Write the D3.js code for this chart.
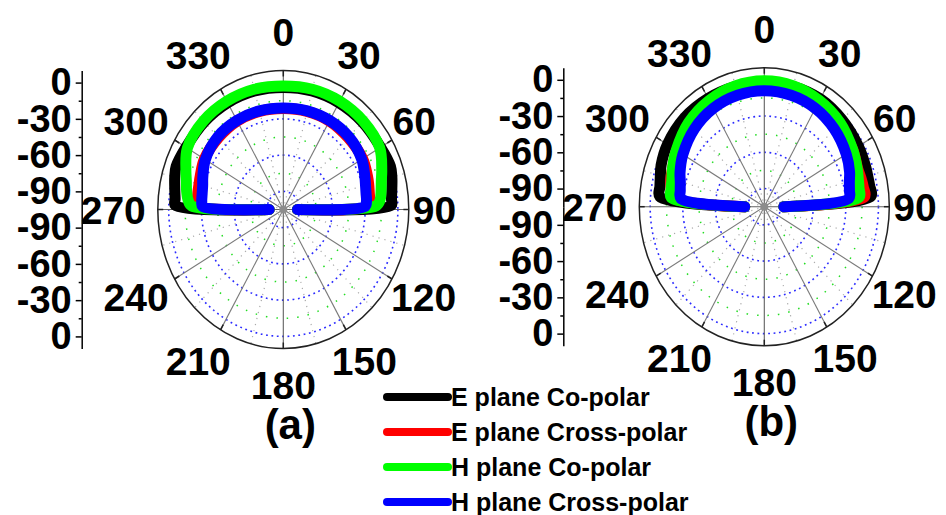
<!DOCTYPE html>
<html>
<head>
<meta charset="utf-8">
<script src="https://cdn.jsdelivr.net/npm/d3@7"></script>
<style>
  body { margin: 0; background: #fff; }
  svg { display: block; }
  text { font-family: Arial, "Liberation Sans", sans-serif; font-weight: bold; }
</style>
</head>
<body>
<div id="chart"></div>
<script>
// radial ticks (dB) and angle labels
var dbTicks = [0, -30, -60, -90];
var dbMinor = [-15, -45, -75];
var angleTicks = [0, 30, 60, 90, 120, 150, 180, 210, 240, 270, 300, 330];
var gridDotted = [15, 45, 75, 105, 135, 165, 195, 225, 255, 285, 315, 345];

var seriesNames = ["E plane Co-polar", "E plane Cross-polar", "H plane Co-polar", "H plane Cross-polar"];
var seriesColors = ["#000000", "#ff0000", "#00ff00", "#0000ff"];

// (a) pattern, angle in degrees, gain in dB
var anglesA = [-90, -88, -85, -80, -75, -70, -60, -45, -30, -15, 0, 15, 30, 45, 60, 70, 75, 80, 85, 88, 90];
var eCoA    = [-92, -6, -5.5, -4, -2, -0.5, -2, -2.5, -3, -3.5, -4, -3.5, -3, -2.5, -2, -0.5, -2, -4, -5.5, -6, -92];
var eCrossA = [-92, -27, -26, -25.5, -25, -24, -21.5, -21, -20.5, -21, -21.5, -21, -20.5, -21, -21, -23, -24, -25, -25.5, -27, -92];
var hCoA    = [-92, -21, -17.5, -15, -13, -10, -3.5, -1.5, -1.5, -2, -2.8, -2, -1.5, -1.5, -3, -9, -12, -14, -16, -20, -92];
var hCrossA = [-92, -31, -30, -29.5, -28.5, -26.5, -22.5, -20, -20, -20.5, -21, -20.5, -20, -20, -22, -25.5, -27, -28, -28.5, -30, -92];

// (b) pattern
var anglesB = [-90, -85, -80, -75, -70, -60, -45, -30, -15, 0, 15, 30, 45, 60, 70, 75, 80, 85, 90];
var eCoB    = [-87, -8.5, -7.5, -6, -4, -2, -1, -1.5, -2, -2, -2, -2, -3.5, -5, -6, -6.5, -6.5, -6.5, -87];
var eCrossB = [-87, -20, -18, -16, -15, -12, -8.5, -6.5, -5.5, -5.5, -5.5, -6, -8.5, -11, -13.5, -13, -12.5, -12.5, -87];
var hCoB    = [-87, -19, -18, -17, -15, -11.5, -6.5, -3.5, -1.5, -0.8, -1.5, -3.5, -6.5, -11, -14, -15.5, -16.5, -17.5, -87];
var hCrossB = [-87, -28, -26.5, -25, -22.5, -18.5, -14, -11, -9.5, -9, -9.5, -11, -14, -18, -21.5, -24, -25.5, -27, -87];

var width = 946, height = 515;
var svg = d3.select("#chart").append("svg")
  .attr("width", width)
  .attr("height", height);

var panels = [
  { cx: 283.3, cy: 209.5, rx: 125.5, ry: 139, axisX: 81.7, tag: "(a)",
    angles: anglesA, series: [eCoA, eCrossA, hCoA, hCrossA] },
  { cx: 764.3, cy: 206.7, rx: 125, ry: 139, axisX: 563.3, tag: "(b)",
    angles: anglesB, series: [eCoB, eCrossB, hCoB, hCrossB] }
];

function rad(a) { return a * Math.PI / 180; }

function drawPanel(p) {
  var g = svg.append("g");
  var kx = p.rx / p.ry;
  var r = d3.scaleLinear().domain([-105, 10]).range([0, p.ry]);
  var rMax = r.domain()[1];

  function px(a, v) { return p.cx + kx * r(v) * Math.sin(rad(a)); }
  function py(a, v) { return p.cy - r(v) * Math.cos(rad(a)); }

  // minor rings (green dots)
  g.selectAll(".minor-ring").data(dbMinor).enter().append("ellipse")
    .attr("cx", p.cx).attr("cy", p.cy)
    .attr("rx", function(d) { return kx * r(d); })
    .attr("ry", function(d) { return r(d); })
    .attr("fill", "none")
    .attr("stroke", "#22dd22")
    .attr("stroke-width", 1.5)
    .attr("stroke-dasharray", "1.5,9");

  // major rings (blue dots)
  g.selectAll(".major-ring").data(dbTicks).enter().append("ellipse")
    .attr("cx", p.cx).attr("cy", p.cy)
    .attr("rx", function(d) { return kx * r(d); })
    .attr("ry", function(d) { return r(d); })
    .attr("fill", "none")
    .attr("stroke", "#2a2aff")
    .attr("stroke-width", 1.6)
    .attr("stroke-dasharray", "1.8,3.6");

  // dotted gray spokes
  g.selectAll(".dot-spoke").data(gridDotted).enter().append("line")
    .attr("x1", p.cx).attr("y1", p.cy)
    .attr("x2", function(d) { return px(d, rMax); })
    .attr("y2", function(d) { return py(d, rMax); })
    .attr("stroke", "#aaaaaa")
    .attr("stroke-width", 1.2)
    .attr("stroke-dasharray", "1.2,5");

  // solid spokes
  g.selectAll(".spoke").data(angleTicks).enter().append("line")
    .attr("x1", p.cx).attr("y1", p.cy)
    .attr("x2", function(d) { return px(d, rMax); })
    .attr("y2", function(d) { return py(d, rMax); })
    .attr("stroke", function(d) { return d % 90 === 0 ? "#606060" : "#7a7a7a"; })
    .attr("stroke-width", 1.1);

  // outer frame
  g.append("ellipse")
    .attr("cx", p.cx).attr("cy", p.cy)
    .attr("rx", p.rx).attr("ry", p.ry)
    .attr("fill", "none")
    .attr("stroke", "#222")
    .attr("stroke-width", 1.5);

  // inward ticks on frame
  var tickIn = r.invert(p.ry - 6);
  g.selectAll(".atick").data(angleTicks).enter().append("line")
    .attr("x1", function(d) { return px(d, rMax); })
    .attr("y1", function(d) { return py(d, rMax); })
    .attr("x2", function(d) { return px(d, tickIn); })
    .attr("y2", function(d) { return py(d, tickIn); })
    .attr("stroke", "#222")
    .attr("stroke-width", 1.5);

  g.append("circle")
    .attr("cx", p.cx).attr("cy", p.cy).attr("r", 4)
    .attr("fill", "#8c8c8c");

  // pattern curves
  var line = d3.line()
    .x(function(d) { return px(d[0], d[1]); })
    .y(function(d) { return py(d[0], d[1]); })
    .curve(d3.curveCatmullRom.alpha(0.5));

  p.series.forEach(function(vals, i) {
    g.append("path")
      .datum(p.angles.map(function(a, j) { return [a, vals[j]]; }))
      .attr("d", line)
      .attr("fill", "none")
      .attr("stroke", seriesColors[i])
      .attr("stroke-width", 11)
      .attr("stroke-linejoin", "round")
      .attr("stroke-linecap", "round");
  });

  // angle labels
  angleTicks.forEach(function(a) {
    var s = Math.sin(rad(a)), c = Math.cos(rad(a));
    var t = g.append("text")
      .attr("font-size", 39)
      .attr("text-anchor", "middle")
      .text(a);
    var hw = t.node().getComputedTextLength() / 2;
    var gap = s < 0 ? 12 : 4;
    var x = p.cx + (Math.abs(s) < 0.01 ? 0 : s * (p.rx + gap + hw));
    var ly = c >= 0 ? 178 : 175;
    var y = p.cy - c * ly;
    t.attr("x", x).attr("y", y + 14);
  });

  // radial axis on the left
  var yTop = d3.scaleLinear().domain(r.domain()).range([p.cy, p.cy - p.ry]);
  var yBot = d3.scaleLinear().domain(r.domain()).range([p.cy, p.cy + p.ry]);

  [yTop, yBot].forEach(function(sc) {
    var ax = g.append("g")
      .attr("transform", "translate(" + p.axisX + ",0)")
      .call(d3.axisLeft(sc).tickValues(dbTicks).tickSize(6).tickSizeOuter(0)
        .tickPadding(4).tickFormat(function(d) { return String(d); }));
    ax.select(".domain").attr("stroke-width", 1.5);
    ax.selectAll(".tick line").attr("stroke-width", 1.5);
    ax.selectAll("text")
      .attr("font-size", 38)
      .attr("font-family", "Arial, 'Liberation Sans', sans-serif")
      .attr("font-weight", "bold");

    var mn = g.append("g")
      .attr("transform", "translate(" + p.axisX + ",0)")
      .call(d3.axisLeft(sc).tickValues(dbMinor).tickSize(3).tickFormat(""));
    mn.select(".domain").remove();
    mn.selectAll(".tick line").attr("stroke-width", 1.5);
  });

  g.append("text")
    .attr("x", p.cx + 7)
    .attr("y", p.cy + 229)
    .attr("text-anchor", "middle")
    .attr("font-size", 42)
    .text(p.tag);
}

panels.forEach(drawPanel);

// legend
var legend = svg.append("g").attr("transform", "translate(387,397)");
var rows = legend.selectAll("g").data(seriesNames).enter().append("g")
  .attr("transform", function(d, i) { return "translate(0," + (i * 35) + ")"; });
rows.append("line")
  .attr("x1", 0).attr("x2", 61)
  .attr("stroke", function(d, i) { return seriesColors[i]; })
  .attr("stroke-width", 8)
  .attr("stroke-linecap", "round");
rows.append("text")
  .attr("x", 64).attr("y", 9)
  .attr("font-size", 25)
  .text(function(d) { return d; });
</script>
</body>
</html>
